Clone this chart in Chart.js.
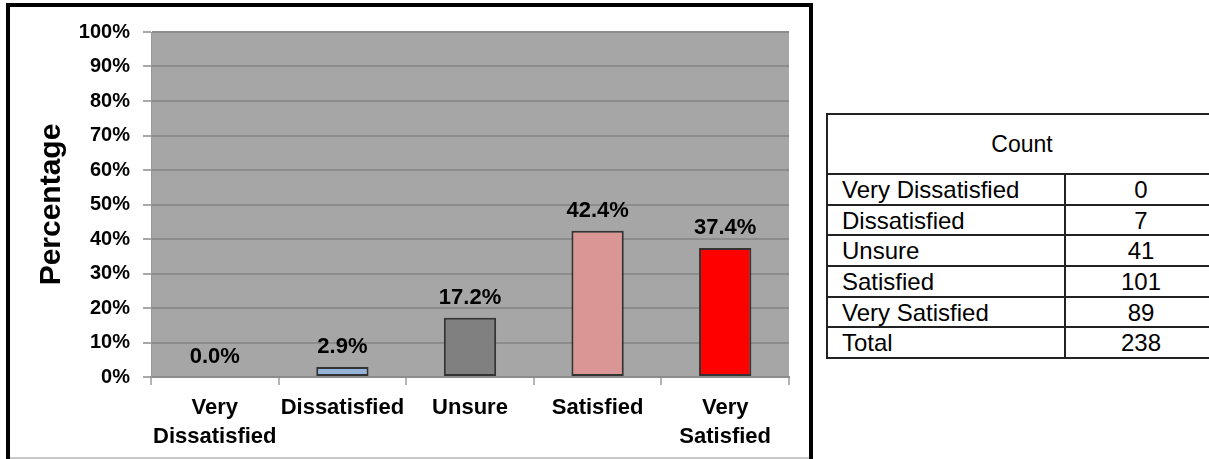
<!DOCTYPE html>
<html>
<head>
<meta charset="utf-8">
<script src="https://cdn.jsdelivr.net/npm/chart.js@4.4.1/dist/chart.umd.min.js"></script>
<style>
    body { margin: 0; background: #fff; width: 1209px; height: 459px; overflow: hidden; position: relative; font-family: "Liberation Sans", Arial, sans-serif; }
    #chart-box { position: absolute; left: 6px; top: 3px; width: 799px; height: 470px; border: 4px solid #000; }
    #chart-wrap { position: absolute; left: 0; top: 0; width: 799px; height: 450px; }
    #bottom-line { position: absolute; left: 0; top: 450px; width: 799px; height: 2px; background: #c8c8c8; }
    #count-table { position: absolute; left: 826px; top: 113px; width: 392px; border-collapse: collapse; font-size: 24px; color: #000; }
    #count-table td { border: 2px solid #222; height: 28.7px; line-height: 27px; padding: 0 0 0 0; }
    #count-table td.head { height: 58px; text-align: center; font-size: 23px; }
    #count-table td.label { width: 222px; padding-left: 14px; }
    #count-table td.num { text-align: center; }
</style>
</head>
<body>
<div id="chart-box">
    <div id="chart-wrap"><canvas id="surveyChart"></canvas></div>
    <div id="bottom-line"></div>
</div>
<table id="count-table"></table>

<script>
// Data
const categories = [['Very', 'Dissatisfied'], 'Dissatisfied', 'Unsure', 'Satisfied', ['Very', 'Satisfied']];
const percentages = [0.0, 2.9, 17.2, 42.4, 37.4];
const barColors = ['#4F81BD', '#95B3D7', '#808080', '#D99694', '#FF0000'];
const tableLabels = ['Very Dissatisfied', 'Dissatisfied', 'Unsure', 'Satisfied', 'Very Satisfied'];
const counts = [0, 7, 41, 101, 89];
const totalCount = 238;

const fontFamily = '"Liberation Sans", Arial, sans-serif';

// Gray plot background
const plotBackground = {
    id: 'plotBackground',
    beforeDraw(chart) {
        const { ctx, chartArea } = chart;
        ctx.save();
        ctx.fillStyle = '#A6A6A6';
        ctx.fillRect(chartArea.left, chartArea.top, chartArea.right - chartArea.left, chartArea.bottom - chartArea.top);
        ctx.restore();
    }
};

// Value labels above bars
const valueLabels = {
    id: 'valueLabels',
    afterDatasetsDraw(chart) {
        const { ctx } = chart;
        const meta = chart.getDatasetMeta(0);
        ctx.save();
        ctx.font = 'bold 22px ' + fontFamily;
        ctx.fillStyle = '#000';
        ctx.textAlign = 'center';
        ctx.textBaseline = 'alphabetic';
        meta.data.forEach((bar, i) => {
            ctx.fillText(percentages[i].toFixed(1) + '%', bar.x, bar.y - 14);
        });
        ctx.restore();
    }
};

new Chart(document.getElementById('surveyChart'), {
    type: 'bar',
    data: {
        labels: categories,
        datasets: [{
            data: percentages,
            backgroundColor: barColors,
            borderColor: '#333',
            borderWidth: 2,
            borderSkipped: false,
            categoryPercentage: 1,
            barPercentage: 0.41
        }]
    },
    options: {
        responsive: true,
        maintainAspectRatio: false,
        animation: false,
        layout: { padding: { top: 21, right: 20, bottom: 0, left: 0 } },
        plugins: {
            legend: { display: false },
            tooltip: { enabled: false }
        },
        scales: {
            x: {
                grid: { drawOnChartArea: false, drawTicks: true, tickLength: 8, color: '#b4b4b4', lineWidth: 2 },
                border: { display: true, color: '#8c8c8c', width: 2 },
                ticks: { color: '#000', font: { family: fontFamily, size: 22, weight: 'bold', lineHeight: 1.3 }, padding: 9, maxRotation: 0, autoSkip: false },
                afterFit(scale) { scale.height = 80; }
            },
            y: {
                min: 0,
                max: 100,
                grid: { color: '#8c8c8c', lineWidth: 2, tickLength: 8, tickColor: '#a8a8a8' },
                border: { display: true, color: '#999', width: 1 },
                ticks: {
                    stepSize: 10,
                    padding: 13,
                    color: '#000',
                    font: { family: fontFamily, size: 20, weight: 'bold' },
                    callback: v => v + '%'
                },
                title: {
                    display: true,
                    text: 'Percentage',
                    color: '#000',
                    font: { family: fontFamily, size: 30, weight: 'bold' },
                    padding: { top: 24, bottom: 0 }
                },
                afterFit(scale) { scale.width = 141; }
            }
        }
    },
    plugins: [plotBackground, valueLabels]
});

// Count table
const table = document.getElementById('count-table');
let html = '<tr><td class="head" colspan="2">Count</td></tr>';
tableLabels.forEach((label, i) => {
    html += `<tr><td class="label">${label}</td><td class="num">${counts[i]}</td></tr>`;
});
html += `<tr><td class="label">Total</td><td class="num">${totalCount}</td></tr>`;
table.innerHTML = html;
</script>
</body>
</html>
